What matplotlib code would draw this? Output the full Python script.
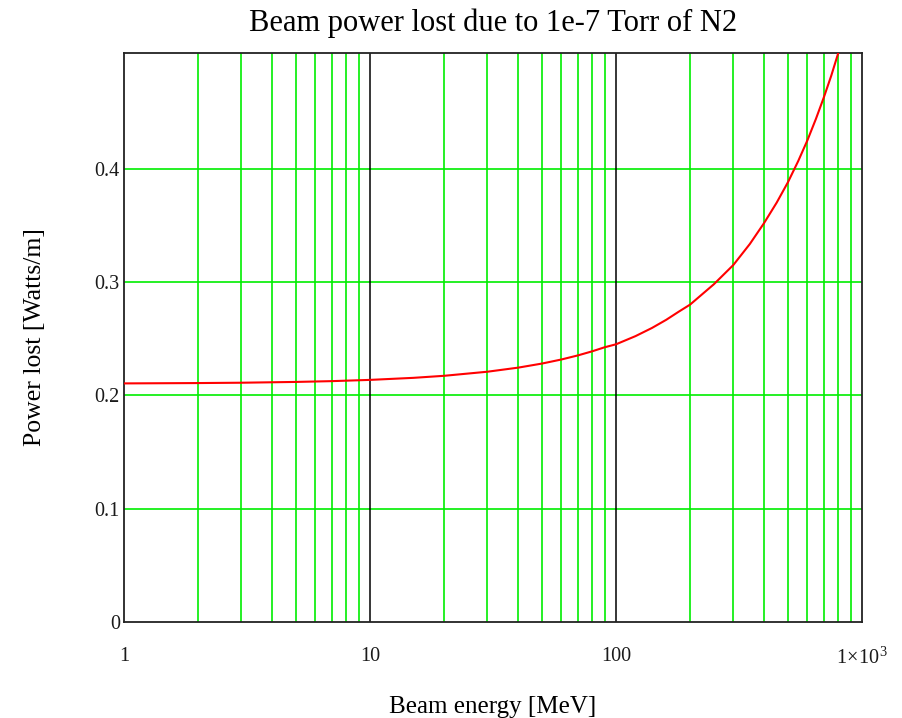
import matplotlib
matplotlib.use('Agg')
import matplotlib.pyplot as plt
import numpy as np
from matplotlib.ticker import FixedLocator, NullFormatter

plt.rcParams['font.family'] = ['Liberation Serif', 'DejaVu Serif']
plt.rcParams['mathtext.fontset'] = 'custom'
plt.rcParams['mathtext.rm'] = 'Liberation Serif'

# beam energy [MeV] and power lost [W/m]
energy = [1, 2, 3, 5, 7, 10, 15, 20, 30, 40, 50, 60, 70, 80, 90, 100,
          120, 140, 160, 180, 200, 250, 300, 350, 400, 450, 500, 550,
          600, 650, 700, 750, 800]
power = [0.2105, 0.2108, 0.2111, 0.2118, 0.2125, 0.2136, 0.2154, 0.2172,
         0.2208, 0.2244, 0.2280, 0.2316, 0.2352, 0.2388, 0.2424, 0.2450,
         0.2522, 0.2594, 0.2666, 0.2738, 0.2800, 0.2980, 0.3150, 0.3335,
         0.3520, 0.3700, 0.3880, 0.4065, 0.4250, 0.4440, 0.4630, 0.4820,
         0.5017]

x_ticks = [1, 10, 100, 1000]
x_labels = ['1', '10', '100', r'$1\!\times\!10^{3}$']
y_ticks = [0, 0.1, 0.2, 0.3, 0.4]
y_labels = ['0', '0.1', '0.2', '0.3', '0.4']

fig = plt.figure(figsize=(9.03, 7.18), dpi=100)
ax = fig.add_axes([0.1373, 0.1337, 0.9546 - 0.1373, 0.9262 - 0.1337])

green = '#00ee00'
ax.set_xscale('log')
ax.set_xlim(1, 1000)
ax.set_ylim(0, 0.502)

minor = [m * d for d in [1, 10, 100] for m in range(2, 10)]
ax.xaxis.set_minor_locator(FixedLocator(minor))
ax.xaxis.set_minor_formatter(NullFormatter())
ax.set_xticks(x_ticks)
ax.set_xticklabels(x_labels)
ax.set_yticks(y_ticks)
ax.set_yticklabels(y_labels)

for v in minor:
    ax.axvline(v, color=green, lw=1.2, zorder=1)
for v in y_ticks[1:]:
    ax.axhline(v, color=green, lw=1.2, zorder=1)
for v in [10, 100]:
    ax.axvline(v, color='black', lw=1.1, zorder=1.5)

ax.plot(energy, power, color='red', lw=1.5, zorder=3)

ax.tick_params(which='both', length=0, labelsize=14.5, colors='#1a1a1a')
ax.tick_params(axis='x', pad=18)
ax.tick_params(axis='y', pad=3)
for s in ax.spines.values():
    s.set_color('#222222')
    s.set_linewidth(1.3)

ax.set_title('Beam power lost due to 1e-7 Torr of N2', fontsize=22, pad=16)
ax.set_xlabel('Beam energy [MeV]', fontsize=18)
ax.set_ylabel('Power lost [Watts/m]', fontsize=18.5)
ax.xaxis.set_label_coords(0.5, -0.13)
ax.yaxis.set_label_coords(-0.106, 0.5)

fig.savefig('out.png', dpi=100)
